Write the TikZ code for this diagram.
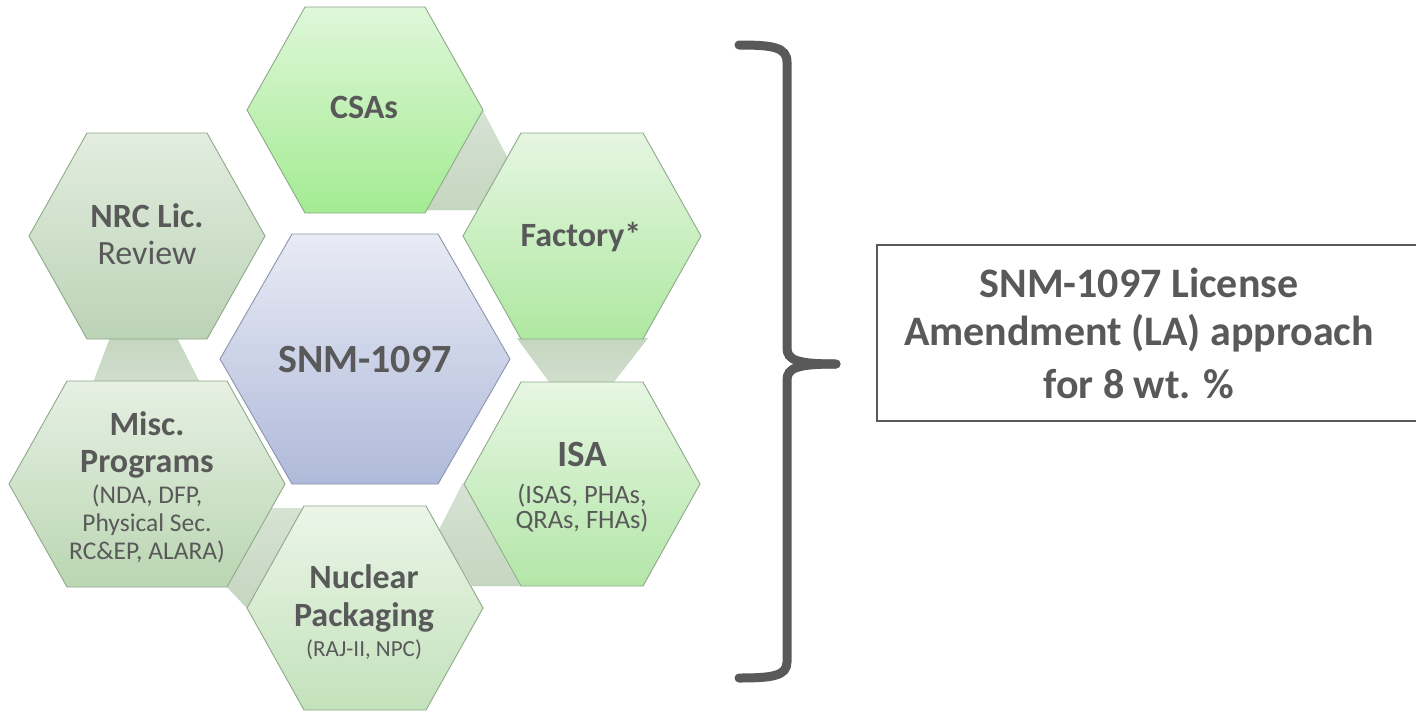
\documentclass[tikz,border=0pt]{standalone}
\usepackage{fontspec}
\setmainfont{Carlito}
\definecolor{txt}{HTML}{595959}
\definecolor{hexline}{HTML}{8FA88A}
\definecolor{cenline}{HTML}{8C94AC}
\definecolor{linkc}{HTML}{C5D6C0}
\definecolor{csaT}{HTML}{DFF7D9}\definecolor{csaB}{HTML}{A3EB92}
\definecolor{facT}{HTML}{E6F6E2}\definecolor{facB}{HTML}{AEE8A0}
\definecolor{nrcT}{HTML}{E2EDDF}\definecolor{nrcB}{HTML}{BCD3B6}
\definecolor{misT}{HTML}{E6F0E3}\definecolor{misB}{HTML}{BAD6B2}
\definecolor{isaT}{HTML}{E6F6E2}\definecolor{isaB}{HTML}{B3E6A8}
\definecolor{nucT}{HTML}{EBF5E8}\definecolor{nucB}{HTML}{C3E2BB}
\definecolor{cenT}{HTML}{E9EBF5}\definecolor{cenB}{HTML}{AFBADA}
\newcommand\hexa[6]{\path[#6] (#1-#3,#2) -- (#1-#5,#2-#4) -- (#1+#5,#2-#4) -- (#1+#3,#2) -- (#1+#5,#2+#4) -- (#1-#5,#2+#4) -- cycle;}
\newcommand\fs[1]{\fontsize{#1}{#1}\selectfont}
\begin{document}
\begin{tikzpicture}[x=1pt,y=-1pt,
  hexg/.style={draw=hexline, line width=0.9pt},
  link/.style={fill=linkc, draw=none},
  lbl/.style={text=txt, inner sep=0pt, anchor=base},
  big/.style={lbl, font=\bfseries\fs{34}},
  small/.style={lbl, font=\fs{25.5}},
]
\useasboundingbox (0,0) rectangle (1416,712);
% links between hexagons
\path[link, top color=linkc!70!white, bottom color=linkc] (483,111) -- (507,157) -- (479,210) -- (427,210) -- cycle;
\path[link, top color=linkc, bottom color=linkc!80!white] (517,338) -- (648,338) -- (613,383) -- (550,383) -- cycle;
\path[link, top color=linkc, bottom color=linkc!80!white] (110,338) -- (177,338) -- (200,383) -- (93,383) -- cycle;
\path[link, top color=linkc!70!white, bottom color=linkc] (271,508) -- (304,508) -- (247,608) -- (227,587) -- cycle;
\path[link, top color=linkc!70!white, bottom color=linkc] (463,483) -- (439,530) -- (472,586) -- (520,586) -- cycle;
% hexagons
\hexa{365}{110}{118}{103}{60}{hexg, top color=csaT, bottom color=csaB}
\hexa{582}{236}{119}{103}{61}{hexg, top color=facT, bottom color=facB}
\hexa{147}{236}{118}{103}{60}{hexg, top color=nrcT, bottom color=nrcB}
\hexa{147}{484}{138}{103}{80}{hexg, top color=misT, bottom color=misB}
\hexa{582}{484}{118}{102}{61}{hexg, top color=isaT, bottom color=isaB}
\hexa{365}{608}{118}{102}{61}{hexg, top color=nucT, bottom color=nucB}
\hexa{365}{359}{145}{125}{73}{draw=cenline, line width=0.9pt, top color=cenT, bottom color=cenB}
% labels
\node[big] (csas) at (364,118) {CSAs};
\node[big] (factory) at (581,246) {Factory*};
\node[big] (nrc) at (147,227) {NRC Lic.};
\node[lbl, font=\fs{34}] (review) at (147,264) {Review};
\node[big, font=\bfseries\fs{40}] (snm) at (365,372) {SNM-1097};
\node[big] (misc) at (147,435) {Misc.};
\node[big] (programs) at (147,472) {Programs};
\node[small] (nda) at (147,503) {(NDA, DFP,};
\node[small] (phys) at (147,531) {Physical Sec.};
\node[small] (rcep) at (147,559) {RC\&EP, ALARA)};
\node[big, font=\bfseries\fs{37}] (isa) at (582,466) {ISA};
\node[small, font=\fs{26.5}] (isas) at (582,503) {(ISAS, PHAs,};
\node[small, font=\fs{26.5}] (qras) at (582,528) {QRAs, FHAs)};
\node[big] (nuclear) at (364,588) {Nuclear};
\node[big] (packaging) at (364,626) {Packaging};
\node[small, font=\fs{23}] (raj) at (364,656) {(RAJ-II, NPC)};
% brace
\coordinate (tip) at (836,364);
\draw[txt, line width=9pt, line cap=round] (739,45) .. controls (772,45) and (787,47) .. (787,62) -- (787,348) .. controls (787,360) and (797,364) .. (tip);
\draw[txt, line width=9pt, line cap=round] (tip) .. controls (797,364) and (787,368) .. (787,380) -- (787,662) .. controls (787,676) and (772,678) .. (739,678);
% box
\draw[txt, line width=1.3pt] (1430,245) -- (877,245) -- (877,421) -- (1430,421);
\node[big, font=\bfseries\fs{42}] (la1) at (1139,297) {SNM-1097 License};
\node[big, font=\bfseries\fs{42}] (la2) at (1139,345) {Amendment (LA) approach};
\node[big, font=\bfseries\fs{42}] (la3) at (1139,398) {for 8 wt. \%};
\end{tikzpicture}
\end{document}
